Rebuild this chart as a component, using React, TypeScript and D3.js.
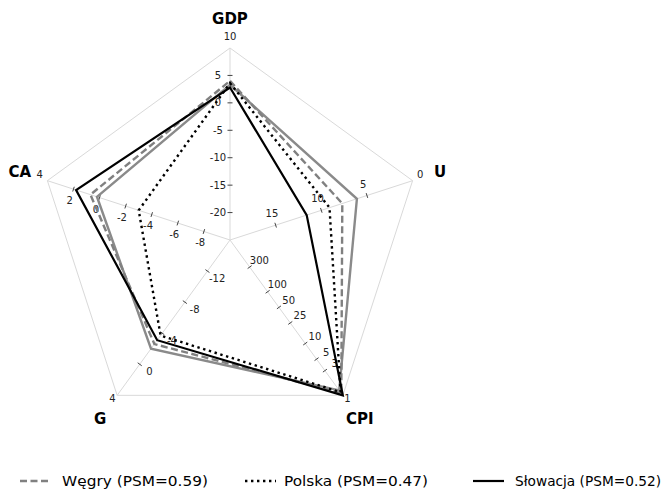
import React from "react";
import * as d3 from "d3";

const axesNames = ["GDP", "U", "CPI", "G", "CA"];
const wegry = [4.0, 7.7, 1.1, -2.6, 0.7];
const polska = [3.6, 9.1, 1.15, -3.7, -3.0];
const slowacja = [2.8, 11.6, 1.0, -3.1, 1.8];
const benchmark = [3.3, 6.1, 1.25, -2.0, 0.2];

const gdpTicks = [5, 0, -5, -10, -15, -20];
const uTicks = [15, 10, 5];
const cpiTicks = [300, 100, 50, 25, 10, 5, 3];
const gTicks = [0, -4, -8, -12];
const caTicks = [2, 0, -2, -4, -6, -8];
const outerLabels = ["10", "0", "1", "4", "4"];

const legendLabels = ["Węgry (PSM=0.59)", "Polska (PSM=0.47)", "Słowacja (PSM=0.52)"];

const W = 667, H = 489;
const cx = 230, cy = 240, R = 192;

const scales: any[] = [
  d3.scaleLinear().domain([-25, 10]).range([0, R]),
  d3.scaleLinear().domain([20, 0]).range([0, R]),
  d3.scaleLog().domain([1000, 1]).range([0, R]),
  d3.scaleLinear().domain([-16, 4]).range([0, R]),
  d3.scaleLinear().domain([-10, 4]).range([0, R]),
];
const tickSets = [gdpTicks, uTicks, cpiTicks, gTicks, caTicks];

const angle = (i: number) => (i * 2 * Math.PI) / 5;
const dir = (i: number) => [Math.sin(angle(i)), -Math.cos(angle(i))];
const pt = (i: number, r: number) => {
  const [dx, dy] = dir(i);
  return [cx + dx * r, cy + dy * r];
};

const series = [
  { data: benchmark, color: "#8a8a8a", width: 2.4, dash: "" },
  { data: wegry, color: "#808080", width: 2.4, dash: "7,3.5" },
  { data: polska, color: "#000", width: 2.4, dash: "2.4,3.6" },
  { data: slowacja, color: "#000", width: 2.2, dash: "" },
];

const line = d3.line<number[]>().x((d) => d[0]).y((d) => d[1]).curve(d3.curveLinearClosed);

export default function App() {
  const font = "DejaVu Sans, sans-serif";
  return (
    <svg width={W} height={H} style={{ position: "absolute", left: 0, top: 0 }} fontFamily={font}>
      <rect width={W} height={H} fill="#fff" />
      <path
        d={line(axesNames.map((_, i) => pt(i, R)))!}
        fill="none"
        stroke="#d9d9d9"
        strokeWidth={1}
      />
      {axesNames.map((_, i) => {
        const [x, y] = pt(i, R);
        return <line key={i} x1={cx} y1={cy} x2={x} y2={y} stroke="#d9d9d9" strokeWidth={1} />;
      })}
      {tickSets.map((ticks, i) => {
        const [dx, dy] = dir(i);
        const px = dy, py = -dx;
        return ticks.map((t, j) => {
          const r = scales[i](t);
          const [x, y] = pt(i, r);
          return (
            <g key={`${i}-${j}`}>
              <line x1={x - px * 2.5} y1={y - py * 2.5} x2={x + px * 2.5} y2={y + py * 2.5} stroke="#444" strokeWidth={1} />
              <text x={x + px * 12} y={y + py * 12} fontSize={10} textAnchor="middle" dominantBaseline="central" fill="#222">
                {String(t)}
              </text>
            </g>
          );
        });
      })}
      {outerLabels.map((t, i) => {
        const [x, y] = pt(i, R + 8);
        return (
          <text key={i} x={x} y={y - 3.5} fontSize={10} textAnchor="middle" dominantBaseline="central" fill="#222">
            {t}
          </text>
        );
      })}
      {series.map((s, k) => (
        <path
          key={k}
          d={line(s.data.map((v, i) => pt(i, scales[i](v))))!}
          fill="none"
          stroke={s.color}
          strokeWidth={s.width}
          strokeDasharray={s.dash || undefined}
          strokeLinejoin="miter"
        />
      ))}
      {axesNames.map((n, i) => {
        const [x, y] = pt(i, 221);
        return (
          <text key={n} x={x} y={y} fontSize={15} fontWeight="bold" textAnchor="middle" dominantBaseline="central" fill="#000">
            {n}
          </text>
        );
      })}
      {[series[1], series[2], series[3]].map((s, k) => {
        const xs = [20, 245, 473][k];
        const tx = [62, 284, 515][k];
        const tl = [146, 144, 146][k];
        return (
          <g key={k}>
            <line x1={xs} y1={481} x2={xs + 31} y2={481} stroke={s.color} strokeWidth={s.width} strokeDasharray={s.dash || undefined} />
            <text x={tx} y={481} fontSize={14} dominantBaseline="central" fill="#000" textLength={tl} lengthAdjust="spacingAndGlyphs">
              {legendLabels[k]}
            </text>
          </g>
        );
      })}
    </svg>
  );
}
